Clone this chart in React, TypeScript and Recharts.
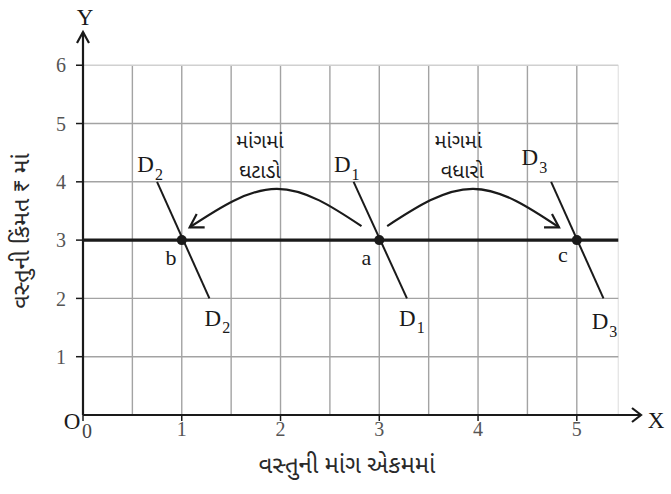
import React from 'react';
import { ComposedChart, Line, XAxis, YAxis, ReferenceLine, ReferenceDot, Scatter, Label } from 'recharts';

// ---- data ----
const xTicks = [0, 1, 2, 3, 4, 5];
const yTicks = [1, 2, 3, 4, 5, 6];
const vGrid = [0.5, 1, 1.5, 2, 2.5, 3, 3.5, 4, 4.5, 5];
const hGrid = [1, 2, 4, 5];
const GRID_X_END = 5.42;
const GRID_Y_END = 6;
const X_MAX = 5.65;
const Y_MAX = 6.57;
const PRICE = 3;

const priceLine = [{ x: 0, y: PRICE }, { x: GRID_X_END, y: PRICE }];
const demandD1 = [{ x: 2.74, y: 4 }, { x: 3.28, y: 2 }];
const demandD2 = [{ x: 0.75, y: 4 }, { x: 1.28, y: 2 }];
const demandD3 = [{ x: 4.74, y: 4 }, { x: 5.27, y: 2 }];
const equilibrium = [{ x: 1, y: 3 }, { x: 3, y: 3 }, { x: 5, y: 3 }];
const decreaseArrow = [{ x: 2.82, y: 3.24 }, { x: 1.96, y: 3.88 }, { x: 1.08, y: 3.22 }];
const increaseArrow = [{ x: 3.08, y: 3.24 }, { x: 3.95, y: 3.88 }, { x: 4.82, y: 3.22 }];

const curveLabels = [
  { x: 0.68, y: 4.29, sub: '2' },
  { x: 2.67, y: 4.29, sub: '1' },
  { x: 4.57, y: 4.41, sub: '3' },
  { x: 1.36, y: 1.66, sub: '2' },
  { x: 3.33, y: 1.66, sub: '1' },
  { x: 5.28, y: 1.6, sub: '3' },
];
const pointLabels = [
  { x: 0.89, y: 2.71, text: 'b' },
  { x: 2.87, y: 2.71, text: 'a' },
  { x: 4.86, y: 2.76, text: 'c' },
];
const shiftLabels = [
  { x: 1.79, y: 4.66, text: 'માંગમાં' },
  { x: 1.79, y: 4.15, text: 'ઘટાડો' },
  { x: 3.8, y: 4.66, text: 'માંગમાં' },
  { x: 3.84, y: 4.15, text: 'વધારો' },
];
const xTitle = 'વસ્તુની માંગ એકમમાં';
const yTitle = 'વસ્તુની કિંમત ₹ માં';

// ---- styles ----
const SERIF = '"Liberation Serif", "Times New Roman", serif';
const GUJ = '"Noto Sans Gujarati", "Noto Serif Gujarati", "Lohit Gujarati", "Noto Sans", sans-serif';
const INK = '#1a1a1a';
const GRID = '#a3a3a3';

const arrowHead = (angleDeg: number, lastIndex: number) => (props: any) => {
  const { cx, cy, index } = props;
  if (index !== lastIndex || cx == null) return <g key={`ah${index}`} />;
  const a = (angleDeg * Math.PI) / 180;
  const len = 15;
  const spread = (31 * Math.PI) / 180;
  const p1 = [cx - len * Math.cos(a - spread), cy - len * Math.sin(a - spread)];
  const p2 = [cx - len * Math.cos(a + spread), cy - len * Math.sin(a + spread)];
  return (
    <polyline
      key={`ah${index}`}
      points={`${p1[0]},${p1[1]} ${cx},${cy} ${p2[0]},${p2[1]}`}
      fill="none"
      stroke={INK}
      strokeWidth={2.2}
    />
  );
};

const XTick = (props: any) => {
  const { x, y, payload } = props;
  if (payload.value === 0) {
    return (
      <g>
        <text x={x - 11} y={y - 2} textAnchor="middle" dominantBaseline="central" fontFamily={SERIF} fontSize={23} fill={INK}>O</text>
        <text x={x + 4} y={y + 8} textAnchor="middle" dominantBaseline="central" fontFamily={SERIF} fontSize={20} fill="#444">0</text>
      </g>
    );
  }
  return (
    <text x={x} y={y + 6} textAnchor="middle" dominantBaseline="central" fontFamily={SERIF} fontSize={20} fill="#555">
      {payload.value}
    </text>
  );
};

export default function App() {
  return (
    <div style={{ position: 'absolute', left: 0, top: 0, background: '#fff' }}>
      <ComposedChart width={671} height={494} data={priceLine} margin={{ top: 32, right: 30, bottom: 49, left: 8 }}>
        <XAxis
          type="number"
          dataKey="x"
          domain={[0, X_MAX]}
          ticks={xTicks}
          height={30}
          tickSize={6}
          tickLine={{ stroke: INK, strokeWidth: 1.5 }}
          axisLine={{ stroke: INK, strokeWidth: 2.2 }}
          tick={<XTick />}
          interval={0}
          allowDataOverflow
        >
          <Label
            content={(p: any) => {
              const vb = p.viewBox;
              return (
                <g>
                  <text x={vb.x + vb.width + 15} y={vb.y + 5} textAnchor="middle" dominantBaseline="central" fontFamily={SERIF} fontSize={23} fill={INK}>X</text>
                  <text x={vb.x + 264} y={vb.y + 52} textAnchor="middle" dominantBaseline="central" fontFamily={GUJ} fontSize={24} fill="#2a2a2a">{xTitle}</text>
                </g>
              );
            }}
          />
        </XAxis>
        <YAxis
          type="number"
          dataKey="y"
          domain={[0, Y_MAX]}
          ticks={yTicks}
          width={75}
          tickSize={7}
          tickMargin={10}
          tickLine={{ stroke: INK, strokeWidth: 1.5 }}
          axisLine={{ stroke: INK, strokeWidth: 2.2 }}
          tick={{ fontFamily: SERIF, fontSize: 20, fill: '#555' }}
          interval={0}
          allowDataOverflow
        >
          <Label
            content={(p: any) => {
              const vb = p.viewBox;
              const cx = vb.x + 15;
              const cy = 231;
              return (
                <g>
                  <text x={vb.x + vb.width + 2} y={vb.y - 15} textAnchor="middle" dominantBaseline="central" fontFamily={SERIF} fontSize={23} fill={INK}>Y</text>
                  <text x={cx} y={cy} transform={`rotate(-90, ${cx}, ${cy})`} textAnchor="middle" dominantBaseline="central" fontFamily={GUJ} fontSize={23.5} fill="#2a2a2a">{yTitle}</text>
                </g>
              );
            }}
          />
        </YAxis>

        {vGrid.map((v) => (
          <ReferenceLine key={`v${v}`} segment={[{ x: v, y: 0 }, { x: v, y: GRID_Y_END }]} stroke={GRID} strokeWidth={1.4} />
        ))}
        <ReferenceLine segment={[{ x: GRID_X_END, y: 0 }, { x: GRID_X_END, y: GRID_Y_END }]} stroke="#e6e6e6" strokeWidth={1.4} />
        {hGrid.map((v) => (
          <ReferenceLine key={`h${v}`} segment={[{ x: 0, y: v }, { x: GRID_X_END, y: v }]} stroke={GRID} strokeWidth={1.4} />
        ))}
        <ReferenceLine segment={[{ x: 0, y: GRID_Y_END }, { x: GRID_X_END, y: GRID_Y_END }]} stroke="#d0d0d0" strokeWidth={1.4} />

        <Line data={priceLine} dataKey="y" type="linear" stroke={INK} strokeWidth={3.2} dot={false} isAnimationActive={false} />
        <Line data={demandD1} dataKey="y" type="linear" stroke={INK} strokeWidth={2} dot={false} isAnimationActive={false} />
        <Line data={demandD2} dataKey="y" type="linear" stroke={INK} strokeWidth={2} dot={false} isAnimationActive={false} />
        <Line data={demandD3} dataKey="y" type="linear" stroke={INK} strokeWidth={2} dot={false} isAnimationActive={false} />
        <Line data={decreaseArrow} dataKey="y" type="natural" stroke={INK} strokeWidth={2.2} dot={arrowHead(149, decreaseArrow.length - 1)} activeDot={false} isAnimationActive={false} />
        <Line data={increaseArrow} dataKey="y" type="natural" stroke={INK} strokeWidth={2.2} dot={arrowHead(31, increaseArrow.length - 1)} activeDot={false} isAnimationActive={false} />

        <Scatter
          data={equilibrium}
          dataKey="y"
          isAnimationActive={false}
          shape={(p: any) => <circle cx={p.cx} cy={p.cy} r={5} fill={INK} />}
        />
        <Scatter
          data={curveLabels}
          dataKey="y"
          isAnimationActive={false}
          shape={(p: any) => (
            <text x={p.cx} y={p.cy} textAnchor="middle" dominantBaseline="central" fontFamily={SERIF} fontSize={23} fill={INK}>
              D<tspan dx={1} dy={9} fontSize={16}>{p.payload.sub}</tspan>
            </text>
          )}
        />
        <Scatter
          data={pointLabels}
          dataKey="y"
          isAnimationActive={false}
          shape={(p: any) => (
            <text x={p.cx} y={p.cy} textAnchor="middle" dominantBaseline="central" fontFamily={SERIF} fontSize={22} fill={INK}>
              {p.payload.text}
            </text>
          )}
        />
        <Scatter
          data={shiftLabels}
          dataKey="y"
          isAnimationActive={false}
          shape={(p: any) => (
            <text x={p.cx} y={p.cy} textAnchor="middle" dominantBaseline="central" fontFamily={GUJ} fontSize={20} fill={INK}>
              {p.payload.text}
            </text>
          )}
        />

        <ReferenceDot
          x={X_MAX}
          y={0}
          ifOverflow="visible"
          shape={(p: any) => (
            <polyline points={`${p.cx - 9},${p.cy - 7} ${p.cx},${p.cy} ${p.cx - 9},${p.cy + 7}`} fill="none" stroke={INK} strokeWidth={2.2} />
          )}
        />
        <ReferenceDot
          x={0}
          y={Y_MAX}
          ifOverflow="visible"
          shape={(p: any) => (
            <polyline points={`${p.cx - 6},${p.cy + 11} ${p.cx},${p.cy} ${p.cx + 6},${p.cy + 11}`} fill="none" stroke={INK} strokeWidth={2.2} />
          )}
        />
      </ComposedChart>
    </div>
  );
}
